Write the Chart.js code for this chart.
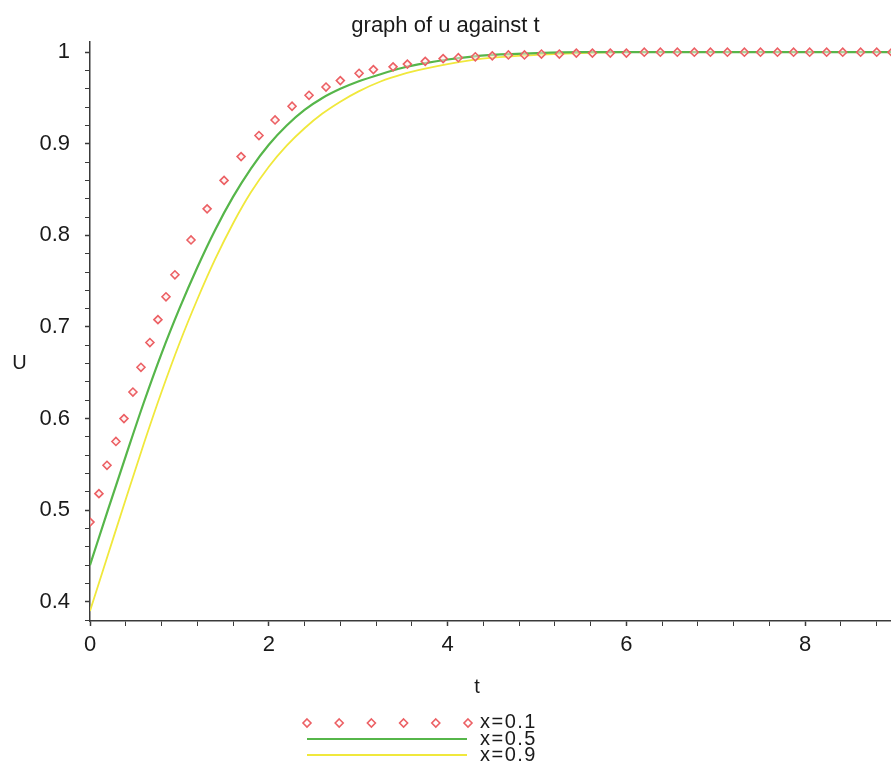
<!DOCTYPE html>
<html lang="en">
<head>
    <meta charset="UTF-8">
    <title>graph of u against t</title>
    <script src="https://cdn.jsdelivr.net/npm/chart.js"></script>
    <style>
        body {
            margin: 0;
            background: #ffffff;
        }
        #wrap {
            position: relative;
            width: 891px;
            height: 764px;
        }
    </style>
</head>
<body>

    <div id="wrap">
        <canvas id="uChart"></canvas>
    </div>

    <script>
        // values
        const redT = [0, 0.1, 0.19, 0.29, 0.38, 0.48, 0.57, 0.67, 0.76, 0.85, 0.95, 1.13, 1.31, 1.50, 1.69,
            1.89, 2.07, 2.26, 2.45, 2.64, 2.80, 3.01, 3.17, 3.39, 3.55, 3.75, 3.95, 4.12, 4.31, 4.50,
            4.68, 4.86, 5.05, 5.25, 5.44, 5.62, 5.82, 6.00, 6.20, 6.38, 6.57, 6.76, 6.94, 7.13, 7.32,
            7.50, 7.69, 7.87, 8.05, 8.24, 8.42, 8.62, 8.80, 8.97];
        const redU = [0.487, 0.518, 0.549, 0.575, 0.600, 0.629, 0.656, 0.683, 0.708, 0.733, 0.757, 0.795, 0.829, 0.860, 0.886,
            0.909, 0.926, 0.941, 0.953, 0.962, 0.969, 0.977, 0.981, 0.984, 0.987, 0.990, 0.993, 0.994, 0.995, 0.996,
            0.997, 0.997, 0.998, 0.998, 0.999, 0.999, 0.999, 0.999, 1, 1, 1, 1, 1, 1, 1,
            1, 1, 1, 1, 1, 1, 1, 1, 1];

        const greenT = [0, 0.2, 0.4, 0.6, 0.8, 1.0, 1.2, 1.4, 1.6, 1.8, 2.0, 2.2, 2.4, 2.6, 2.8, 3.0,
            3.25, 3.5, 3.75, 4.0, 4.25, 4.5, 5.0, 5.5, 6.0, 7.0, 8.0, 8.97];
        const greenU = [0.440, 0.500, 0.559, 0.617, 0.671, 0.720, 0.765, 0.806, 0.842, 0.873, 0.899, 0.920, 0.937, 0.950, 0.960, 0.968,
            0.976, 0.983, 0.988, 0.992, 0.995, 0.997, 0.999, 1, 1, 1, 1, 1];

        const yellowT = [0, 0.2, 0.4, 0.6, 0.8, 1.0, 1.2, 1.4, 1.6, 1.8, 2.0, 2.2, 2.4, 2.6, 2.8, 3.0,
            3.25, 3.5, 3.75, 4.0, 4.25, 4.5, 5.0, 5.5, 6.0, 7.0, 8.0, 8.97];
        const yellowU = [0.390, 0.451, 0.512, 0.572, 0.629, 0.682, 0.730, 0.774, 0.813, 0.847, 0.875, 0.898, 0.917, 0.933, 0.946, 0.957,
            0.968, 0.976, 0.982, 0.987, 0.991, 0.994, 0.997, 0.999, 1, 1, 1, 1];

        const seriesNames = ["x=0.1", "x=0.5", "x=0.9"];
        const xTickLabels = [0, 2, 4, 6, 8];
        const yTickLabels = [0.4, 0.5, 0.6, 0.7, 0.8, 0.9, 1];
        const xMinorStep = 0.4;
        const yMinorStep = 0.02;

        const RED = "rgb(236, 96, 100)";
        const GREEN = "rgb(86, 182, 74)";
        const YELLOW = "rgb(240, 232, 60)";
        const AXIS = "#3a3a3a";
        const TEXT = "#1a1a1a";
        const FONT = "'Liberation Sans', Arial, sans-serif";

        const toPoints = (ts, us) => ts.map((t, i) => ({ x: t, y: us[i] }));
        const isLabelled = (v, list) => list.some(l => Math.abs(l - v) < 1e-6);

        function minorTicks(from, to, step) {
            const out = [];
            const n = Math.round((to - from) / step);
            for (let i = 0; i <= n; i++) out.push({ value: +(from + i * step).toFixed(4) });
            return out;
        }

        // axis names ("U" stays upright) and the legend under the plot
        const extras = {
            id: "extras",
            afterDraw(chart) {
                const ctx = chart.ctx;
                const ds = chart.data.datasets;
                ctx.save();

                ctx.fillStyle = TEXT;
                ctx.font = "20px " + FONT;
                ctx.textAlign = "center";
                ctx.textBaseline = "middle";
                ctx.fillText("U", 19.5, 363);
                ctx.fillText("t", 477, 687);

                ctx.textAlign = "left";
                ctx.letterSpacing = "1.5px";

                // row 1: dots
                ctx.strokeStyle = ds[0].borderColor;
                ctx.lineWidth = ds[0].borderWidth;
                const r = ds[0].pointRadius;
                for (let i = 0; i < 6; i++) {
                    const cx = 307 + i * 32.2, cy = 723;
                    ctx.beginPath();
                    ctx.moveTo(cx, cy - r);
                    ctx.lineTo(cx + r, cy);
                    ctx.lineTo(cx, cy + r);
                    ctx.lineTo(cx - r, cy);
                    ctx.closePath();
                    ctx.stroke();
                }
                ctx.fillText(seriesNames[0], 480, 722);

                // rows 2 and 3: lines
                [[1, 739], [2, 755]].forEach(([k, y]) => {
                    ctx.strokeStyle = ds[k].borderColor;
                    ctx.lineWidth = ds[k].borderWidth;
                    ctx.beginPath();
                    ctx.moveTo(307, y);
                    ctx.lineTo(467, y);
                    ctx.stroke();
                    ctx.fillText(seriesNames[k], 480, y);
                });

                ctx.restore();
            }
        };

        new Chart(document.getElementById("uChart"), {
            type: "line",
            data: {
                datasets: [
                    {
                        label: seriesNames[0],
                        data: toPoints(redT, redU),
                        showLine: false,
                        pointStyle: "rectRot",
                        pointRadius: 4,
                        pointBorderWidth: 1.6,
                        borderWidth: 1.6,
                        borderColor: RED,
                        pointBorderColor: RED,
                        pointBackgroundColor: "rgba(255,235,235,0.5)",
                        backgroundColor: "rgba(255,255,255,0)"
                    },
                    {
                        label: seriesNames[1],
                        data: toPoints(greenT, greenU),
                        borderColor: GREEN,
                        borderWidth: 2.2,
                        pointRadius: 0,
                        cubicInterpolationMode: "monotone"
                    },
                    {
                        label: seriesNames[2],
                        data: toPoints(yellowT, yellowU),
                        borderColor: YELLOW,
                        borderWidth: 1.8,
                        pointRadius: 0,
                        cubicInterpolationMode: "monotone"
                    }
                ]
            },
            options: {
                responsive: true,
                maintainAspectRatio: false,
                animation: false,
                layout: { padding: 0, autoPadding: false },
                plugins: {
                    legend: { display: false },
                    tooltip: { enabled: false },
                    title: {
                        display: true,
                        text: "graph of u against t",
                        color: TEXT,
                        font: { family: FONT, size: 22, weight: "normal" },
                        padding: { top: 13, bottom: 2 }
                    }
                },
                scales: {
                    x: {
                        type: "linear",
                        min: 0,
                        max: 8.96,
                        afterFit: (scale) => {
                            scale.height = 143;
                            scale.paddingLeft = 0;
                            scale.paddingRight = 0;
                        },
                        afterBuildTicks: (scale) => { scale.ticks = minorTicks(0, 8.8, xMinorStep); },
                        border: { color: AXIS, width: 1.5 },
                        grid: {
                            drawOnChartArea: false,
                            tickLength: 5,
                            tickColor: AXIS,
                            tickWidth: (c) => isLabelled(c.tick.value, xTickLabels) ? 1.5 : 1
                        },
                        ticks: {
                            autoSkip: false,
                            maxRotation: 0,
                            padding: 6,
                            color: TEXT,
                            font: { family: FONT, size: 22 },
                            callback: (v) => isLabelled(v, xTickLabels) ? String(Math.round(v)) : ""
                        }
                    },
                    y: {
                        type: "linear",
                        min: 0.379,
                        max: 1.0118,
                        afterFit: (scale) => {
                            scale.width = 90;
                            scale.paddingTop = 0;
                            scale.paddingBottom = 0;
                        },
                        afterBuildTicks: (scale) => { scale.ticks = minorTicks(0.38, 1.0, yMinorStep); },
                        border: { color: AXIS, width: 1.5 },
                        grid: {
                            drawOnChartArea: false,
                            tickLength: 5,
                            tickColor: AXIS,
                            tickWidth: (c) => isLabelled(c.tick.value, yTickLabels) ? 1.5 : 1
                        },
                        ticks: {
                            autoSkip: false,
                            padding: 15,
                            color: TEXT,
                            font: { family: FONT, size: 22 },
                            callback: (v) => isLabelled(v, yTickLabels) ? String(+v.toFixed(1)) : ""
                        }
                    }
                }
            },
            plugins: [extras]
        });
    </script>

</body>
</html>
